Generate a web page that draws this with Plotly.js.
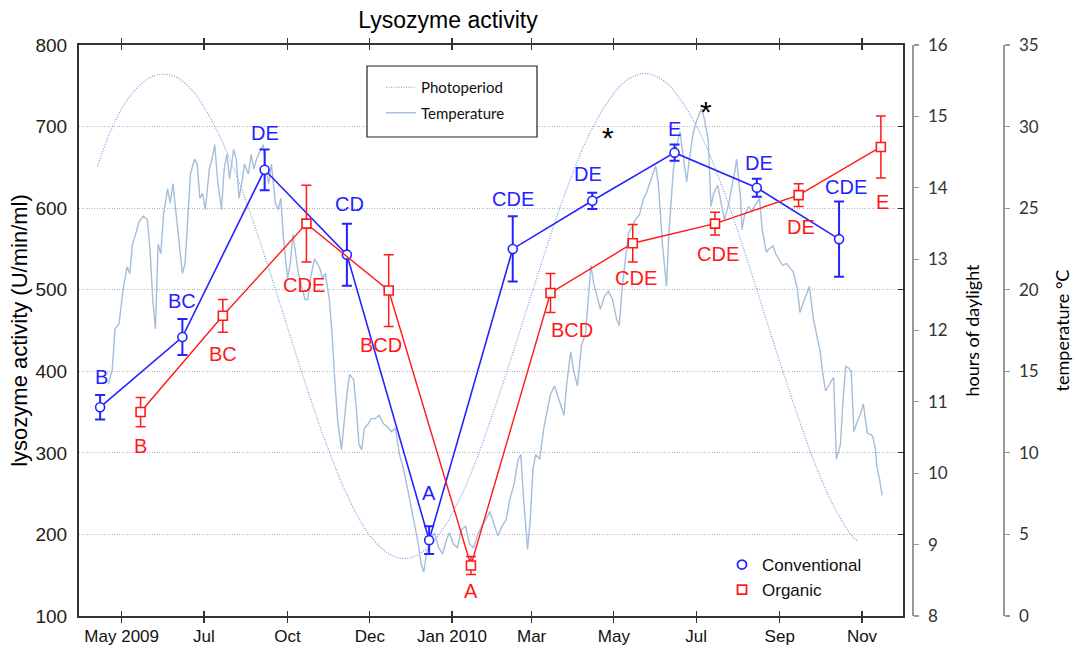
<!DOCTYPE html>
<html><head><meta charset="utf-8">
<script src="https://cdn.plot.ly/plotly-3.0.1.min.js"></script>
<style>html,body{margin:0;padding:0;background:#fff}</style>
</head><body>
<div id="chart" style="width:1076px;height:652px"></div>
<script>
// ---- Lysozyme activity (U/min/ml), mean ± error ----
const convDates  = ['2009-04-15','2009-06-15','2009-08-15','2009-10-15','2009-12-15','2010-02-15','2010-04-15','2010-06-15','2010-08-15','2010-10-15'];
const convValues = [356, 442, 647, 543, 193, 550, 609, 668, 625, 562];
const convErr    = [15, 22, 25, 38, 17, 40, 10, 10, 11, 46];
const convLetters = ['B','BC','DE','CD','A','CDE','DE','E','DE','CDE'];

const orgDates  = ['2009-05-15','2009-07-15','2009-09-15','2009-11-15','2010-01-15','2010-03-15','2010-05-15','2010-07-15','2010-09-15','2010-11-15'];
const orgValues = [350, 468, 581, 499, 162, 496, 557, 581, 616, 675];
const orgErr    = [18, 20, 47, 44, 11, 24, 23, 14, 14, 38];
const orgLetters = ['B','BC','CDE','BCD','A','BCD','CDE','CDE','DE','E'];

// significance asterisks
const starDates  = ['2010-04-27','2010-07-08'];
const starValues = [686, 719];

// ---- Photoperiod (hours of daylight), day number from 2009-05-01 ----
const photoDay   = [-18,-4,10,24,38,52,66,80,94,108,122,136,150,164,178,192,206,220,234,248,262,276,290,304,318,332,346,360,374,388,402,416,430,444,458,472,486,500,514,528,542,546];
const photoHours = [14.3,14.97,15.37,15.57,15.57,15.37,14.97,14.41,13.72,12.93,12.10,11.27,10.50,9.83,9.30,8.96,8.81,8.86,9.11,9.54,10.14,10.88,11.68,12.51,13.33,14.08,14.72,15.19,15.50,15.60,15.50,15.19,14.72,14.08,13.33,12.51,11.68,10.88,10.14,9.54,9.11,9.05];

// ---- Temperature (°C), day number from 2009-05-01 ----
const tempDay = [
 -10,-7,-5,-2,1,4,6,8,11,13,
 16,19,21,23,25,27,29,31,34,36,
 38,40,42,45,47,49,51,54,56,58,
 60,62,65,67,69,71,74,76,78,80,
 83,85,87,89,91,94,96,98,100,103,
 105,107,109,111,114,116,118,120,123,125,
 127,129,131,134,136,138,140,143,145,147,
 149,151,154,156,158,160,163,165,167,169,
 172,174,176,178,180,183,185,188,191,194,
 197,200,203,206,209,212,215,218,220,222,
 224,226,229,232,235,238,241,243,246,249,
 252,255,258,261,264,267,270,273,276,279,
 282,285,288,291,294,296,298,301,303,305,
 307,310,313,315,318,321,324,326,328,330,
 333,335,338,341,344,346,348,350,353,355,
 358,361,364,367,369,371,374,376,378,381,
 384,387,389,391,393,396,398,399,401,404,
 406,409,411,414,417,419,421,424,427,430,
 432,435,437,439,442,444,447,450,453,455,
 456,459,460,462,465,467,470,473,475,478,
 480,483,485,488,490,493,496,498,501,503,
 505,508,510,513,516,518,520,522,525,526,
 528,530,533,535,537,539,541,543,545,548,
 550,552,553,556,557,559,560,562,564];
const tempC = [
 14.2,15.1,17.6,17.9,20.0,21.4,21.0,22.8,23.6,24.2,
 24.5,24.3,22.5,19.4,17.6,22.8,22.2,24.6,26.2,25.3,
 26.5,24.8,23.1,21.0,21.6,24.6,27.1,28.0,27.7,25.6,
 25.9,24.9,27.4,28.0,28.9,26.8,24.9,27.4,28.3,26.8,
 28.6,28.0,25.6,26.5,27.7,27.1,28.3,27.4,28.0,28.6,
 28.9,27.4,26.5,27.7,25.3,24.9,25.6,23.1,20.7,21.6,
 23.4,22.2,21.0,20.0,19.4,19.4,20.7,21.9,21.6,21.3,
 20.7,21.0,19.4,17.3,14.5,12.1,10.2,12.1,13.6,14.8,
 14.5,12.7,10.5,10.2,11.5,11.8,12.1,12.1,12.3,11.8,
 11.6,11.3,11.5,9.9,9.0,7.8,6.6,5.3,4.4,3.2,
 2.7,3.8,4.7,5.1,4.2,3.8,4.7,5.1,4.4,4.2,
 5.3,5.5,4.4,4.2,5.0,5.5,5.9,6.4,5.6,4.9,
 5.5,5.9,7.2,8.1,9.6,9.9,7.2,4.1,5.9,9.0,
 9.9,9.6,11.5,12.3,13.6,14.1,13.3,12.7,12.3,14.2,
 16.2,15.1,14.1,16.6,17.3,19.4,21.5,20.4,19.4,18.8,
 19.6,19.9,19.4,18.2,17.8,20.0,22.2,23.5,23.8,24.3,
 24.6,25.6,25.9,26.4,26.8,27.6,26.5,25.1,22.8,20.2,
 23.7,27.2,28.6,29.7,28.0,26.6,28.0,29.7,30.5,31.1,
 30.5,29.2,25.1,25.9,26.4,25.6,24.3,25.2,26.4,27.4,
 28.0,25.6,23.7,24.6,25.1,24.8,25.2,25.6,23.7,22.3,
 22.5,22.7,22.2,21.8,21.5,21.6,21.3,21.1,20.1,18.6,
 19.1,19.7,20.2,18.2,17.0,16.2,14.8,13.8,14.2,14.4,
 14.6,9.6,10.5,13.3,15.3,15.2,15.0,11.3,11.8,12.4,
 13.0,11.8,11.2,11.1,11.0,10.2,9.2,8.4,7.4];

// ---- Axis ticks ----
const xTickVals = ['2009-05-01','2009-07-01','2009-09-01','2009-11-01','2010-01-01','2010-03-01','2010-05-01','2010-07-01','2010-09-01','2010-11-01'];
const xTickText = ['May 2009','Jul','Oct','Dec','Jan 2010','Mar','May','Jul','Sep','Nov'];
const lysoTicks = [100,200,300,400,500,600,700,800];
const dayTicks  = [8,9,10,11,12,13,14,15,16];
const tempTicks = [0,5,10,15,20,25,30,35];

// day number -> ISO date
const BASE = Date.UTC(2009,4,1);
const toDate = d => new Date(BASE + d*86400000).toISOString().slice(0,10);

// label placement offsets (pixels) – styling only
const convShift = [[1,30],[0,36],[0,37],[3,51],[0,47],[0,50],[-4,27],[0,24],[2,25],[7,52]];
const orgShift  = [[0,-34],[0,-38],[-2,-61],[-8,-54],[0,-26],[21,-37],[3,-35],[3,-30],[2,-32],[2,-55]];

const BLUE = 'rgb(35,35,255)';
const RED  = 'rgb(255,25,25)';
const FONT = 'Liberation Sans, Arial, sans-serif';
const CAL  = 'Lato, Liberation Sans, sans-serif';

const traces = [
  // legend-only entries on the base axis (keep the main x/y subplot alive)
  { x:[null], y:[null], yaxis:'y', type:'scatter', mode:'markers', name:'Conventional',
    legend:'legend2', legendrank:1,
    marker:{symbol:'circle', size:9, color:'white', line:{color:BLUE, width:1.8}} },
  { x:[null], y:[null], yaxis:'y', type:'scatter', mode:'markers', name:'Organic',
    legend:'legend2', legendrank:2,
    marker:{symbol:'square', size:9, color:'white', line:{color:RED, width:1.8}} },
  { x: tempDay.map(toDate), y: tempC, yaxis:'y3', type:'scatter', mode:'lines',
    name:'Temperature', line:{color:'rgb(165,190,220)', width:1.4},
    legend:'legend', legendgroup:'b', legendrank:2, hoverinfo:'skip' },
  { x: photoDay.map(toDate), y: photoHours, yaxis:'y2', type:'scatter', mode:'lines',
    name:'Photoperiod', line:{color:'rgb(120,155,222)', width:1.2, dash:'1px,1.5px', shape:'spline'},
    legend:'legend', legendgroup:'a', legendrank:1, hoverinfo:'skip' },
  { x: convDates, y: convValues, yaxis:'y4', type:'scatter', mode:'lines+markers',
    name:'Conventional', showlegend:false,
    line:{color:BLUE, width:1.6},
    marker:{symbol:'circle', size:9, color:'white', line:{color:BLUE, width:1.6}},
    error_y:{type:'data', array:convErr, visible:true, color:BLUE, thickness:2, width:5} },
  { x: orgDates, y: orgValues, yaxis:'y4', type:'scatter', mode:'lines+markers',
    name:'Organic', showlegend:false,
    line:{color:RED, width:1.4},
    marker:{symbol:'square', size:9, color:'white', line:{color:RED, width:1.6}},
    error_y:{type:'data', array:orgErr, visible:true, color:RED, thickness:1.5, width:5} }
];

const annotations = [];
convLetters.forEach((t,i)=>annotations.push({x:convDates[i], y:convValues[i], xref:'x', yref:'y4', text:t,
  showarrow:false, xshift:convShift[i][0], yshift:convShift[i][1], font:{family:FONT, size:20, color:BLUE}}));
orgLetters.forEach((t,i)=>annotations.push({x:orgDates[i], y:orgValues[i], xref:'x', yref:'y4', text:t,
  showarrow:false, xshift:orgShift[i][0], yshift:orgShift[i][1], font:{family:FONT, size:20, color:RED}}));
starDates.forEach((d,i)=>annotations.push({x:d, y:starValues[i], xref:'x', yref:'y4', text:'*',
  showarrow:false, font:{family:FONT, size:30, color:'#000'}}));

const W = 1076, ML = 79, MR = 73;
const paperW = W - ML - MR;
const xDomEnd = (903 - ML) / paperW;
const dayPos  = (912 - ML) / paperW;

const layout = {
  width: 1076, height: 652,
  margin: {l:ML, r:MR, t:45, b:36, pad:0},
  paper_bgcolor:'#fff', plot_bgcolor:'rgba(0,0,0,0)',
  font:{family:FONT, size:17, color:'#111'},
  showlegend:true,
  title:{text:'Lysozyme activity', font:{family:FONT, size:23, color:'#000'},
    xref:'container', x:448/1076, xanchor:'center', yref:'container', y:1-20/652, yanchor:'middle'},
  xaxis:{type:'date', domain:[0, xDomEnd], range:['2009-03-30 08:00','2010-12-01 10:00'],
    tickvals:xTickVals, ticktext:xTickText, ticks:'inside', ticklen:5, tickwidth:1.2, tickcolor:'#333',
    showline:true, linecolor:'#333', linewidth:2, mirror:'allticks', showgrid:false, zeroline:false,
    tickfont:{family:FONT, size:17, color:'#111'}, ticklabelstandoff:4, automargin:false},
  yaxis:{range:[100,800], tickvals:lysoTicks, ticks:'', showline:true, linecolor:'#333', linewidth:2, mirror:true,
    showgrid:true, gridcolor:'#b4b4b4', griddash:'1px,1.5px', gridwidth:1, zeroline:false,
    tickfont:{family:FONT, size:19, color:'#222'}, ticklabelstandoff:6, automargin:false,
    title:{text:'lysozyme activity (U/min/ml)', font:{family:FONT, size:22, color:'#000'}, standoff:2}},
  yaxis2:{overlaying:'y', anchor:'free', position:dayPos, side:'right', range:[8,16], tickvals:dayTicks,
    ticks:'outside', ticklen:5, tickcolor:'#999', tickwidth:1.2, showline:true, linecolor:'#999', linewidth:1.5,
    showgrid:false, zeroline:false, tickfont:{family:CAL, size:17, color:'#333'}, ticklabelstandoff:6, automargin:false,
    title:{text:'hours of daylight', font:{family:CAL, size:18, color:'#000'}, standoff:19}},
  yaxis3:{overlaying:'y', anchor:'free', position:1, side:'right', range:[0,35], tickvals:tempTicks,
    ticks:'outside', ticklen:5, tickcolor:'#999', tickwidth:1.2, showline:true, linecolor:'#999', linewidth:1.5,
    showgrid:false, zeroline:false, tickfont:{family:CAL, size:17, color:'#333'}, ticklabelstandoff:6, automargin:false,
    title:{text:'temperature °C', font:{family:CAL, size:18, color:'#000'}, standoff:18}},
  yaxis4:{overlaying:'y', anchor:'x', side:'right', range:[100,800], tickvals:lysoTicks,
    ticks:'inside', ticklen:5, tickcolor:'#333', tickwidth:1.2, showticklabels:false, showline:false,
    showgrid:false, zeroline:false},
  legend:{x:(381-ML)/paperW, y:(616-71)/571, xanchor:'left', yanchor:'top', bgcolor:'rgba(0,0,0,0)',
    borderwidth:0, font:{family:CAL, size:15, color:'#111'}, traceorder:'grouped', tracegroupgap:3, itemwidth:30},
  legend2:{x:(722-ML)/paperW, y:(616-547)/571, xanchor:'left', yanchor:'top', bgcolor:'rgba(0,0,0,0)',
    borderwidth:0, font:{family:FONT, size:17, color:'#111'}, tracegroupgap:0},
  shapes:[{type:'rect', xref:'paper', yref:'paper', x0:(367-ML)/paperW, x1:(537-ML)/paperW,
    y0:(616-137)/571, y1:(616-66)/571, line:{color:'#222', width:1.2}, fillcolor:'#fff', layer:'above'}],
  annotations: annotations
};

Plotly.newPlot('chart', traces, layout, {staticPlot:true, displayModeBar:false});
</script>
</body></html>
